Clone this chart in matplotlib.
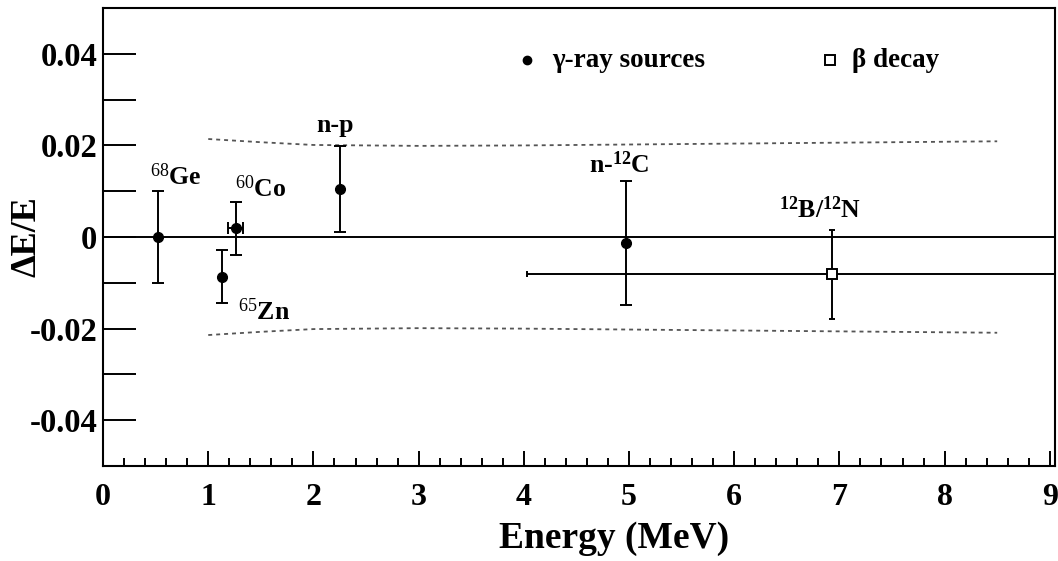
import matplotlib
matplotlib.use("Agg")
import matplotlib.pyplot as plt
from matplotlib.ticker import MultipleLocator, FixedLocator

plt.rcParams["font.family"] = ["Liberation Serif", "DejaVu Serif"]
plt.rcParams["mathtext.fontset"] = "custom"
plt.rcParams["mathtext.rm"] = "Liberation Serif"
plt.rcParams["mathtext.bf"] = "Liberation Serif:bold"
plt.rcParams["mathtext.default"] = "rm"

# gamma-ray source calibration points
gamma_names = ["68Ge", "65Zn", "60Co", "n-p", "n-12C"]
gamma_energy = [0.52, 1.13, 1.26, 2.25, 4.97]
gamma_dev = [0.0, -0.0087, 0.0019, 0.0105, -0.0013]
gamma_err = [0.0101, 0.0058, 0.0058, 0.0094, 0.0136]
gamma_xerr = [0.0, 0.0, 0.07, 0.0, 0.0]

# beta-decay spectrum point (12B/12N)
beta_energy = [6.93]
beta_dev = [-0.0081]
beta_err = [0.0097]
beta_xerr_lo = [2.90]
beta_xerr_hi = [2.90]

# systematic band (dotted envelope)
band_x = [1.0, 1.5, 2.0, 3.0, 4.0, 5.0, 6.0, 7.0, 8.0, 8.5]
band_hi = [0.0214, 0.0207, 0.0201, 0.0199, 0.0200, 0.0202, 0.0204, 0.0206, 0.0208, 0.0209]
band_lo = [-0.0214, -0.0207, -0.0201, -0.0199, -0.0200, -0.0202, -0.0204, -0.0206, -0.0208, -0.0209]

x_ticks = [0, 1, 2, 3, 4, 5, 6, 7, 8, 9]
y_ticks = [-0.04, -0.02, 0.0, 0.02, 0.04]
y_ticklabels = ["-0.04", "-0.02", "0", "0.02", "0.04"]

fig = plt.figure(figsize=(10.58, 5.61), dpi=100)
ax = fig.add_axes([0.0974, 0.1693, 0.8998, 0.8164])
ax.set_xlim(0, 9.05)
ax.set_ylim(-0.05, 0.05)

# reference line at zero
ax.axhline(0.0, color="black", lw=1.4, zorder=1)

# dotted envelope
ax.plot(band_x, band_hi, color="#555555", lw=1.3, ls=(0, (2.2, 2.2)), zorder=1)
ax.plot(band_x, band_lo, color="#555555", lw=1.3, ls=(0, (2.2, 2.2)), zorder=1)

ax.errorbar(gamma_energy, gamma_dev, yerr=gamma_err, xerr=gamma_xerr,
            fmt="o", color="black", ms=7, lw=1.4, capsize=4, capthick=1.4, zorder=3)
ax.errorbar(beta_energy, beta_dev, yerr=beta_err, xerr=[beta_xerr_lo, beta_xerr_hi],
            fmt="s", mfc="white", mec="black", mew=1.4, color="black", ms=7,
            lw=1.4, capsize=2.5, capthick=1.4, zorder=3)

# point labels
lab_kw = dict(fontsize=18.5, fontweight="bold", ha="left", va="baseline")
ax.text(0.45, 0.0113, r"$^{68}$Ge", **lab_kw)
ax.text(1.25, 0.0087, r"$^{60}$Co", **lab_kw)
ax.text(1.28, -0.0181, r"$^{65}$Zn", **lab_kw)
ax.text(2.03, 0.0229, "n-p", **lab_kw)
ax.text(4.62, 0.0140, r"n-$^{\mathbf{12}}$C", **lab_kw)
ax.text(6.43, 0.0041, r"$^{\mathbf{12}}$B/$^{\mathbf{12}}$N", **lab_kw)

# legend entries
ax.plot([4.03], [0.0386], "o", color="black", ms=6)
ax.text(4.27, 0.0386, "γ-ray sources", fontsize=19.5, fontweight="bold",
        ha="left", va="center")
ax.plot([6.91], [0.0386], "s", mfc="white", mec="black", mew=1.4, ms=6.5)
ax.text(7.12, 0.0386, "β decay", fontsize=19.5, fontweight="bold",
        ha="left", va="center")

# axes styling
for side in ["top", "right", "left", "bottom"]:
    ax.spines[side].set_linewidth(1.5)
ax.xaxis.set_major_locator(FixedLocator(x_ticks))
ax.xaxis.set_minor_locator(MultipleLocator(0.2))
ax.yaxis.set_major_locator(FixedLocator(y_ticks))
ax.yaxis.set_minor_locator(MultipleLocator(0.01))
ax.set_yticklabels(y_ticklabels)
ax.tick_params(axis="x", which="major", direction="in", length=11, width=1.4,
               labelsize=23, pad=12, top=False)
ax.tick_params(axis="x", which="minor", direction="in", length=6, width=1.4, top=False)
ax.tick_params(axis="y", which="both", direction="in", length=24, width=1.4,
               labelsize=23.5, pad=4, right=False)
for lbl in ax.get_xticklabels() + ax.get_yticklabels():
    lbl.set_fontweight("bold")

ax.set_xlabel("Energy (MeV)", fontsize=27, fontweight="bold")
ax.xaxis.set_label_coords(0.537, -0.12)
ax.set_ylabel("ΔE/E", fontsize=26, fontweight="bold")
ax.yaxis.set_label_coords(-0.063, 0.5)

fig.savefig("out.png", dpi=100)
